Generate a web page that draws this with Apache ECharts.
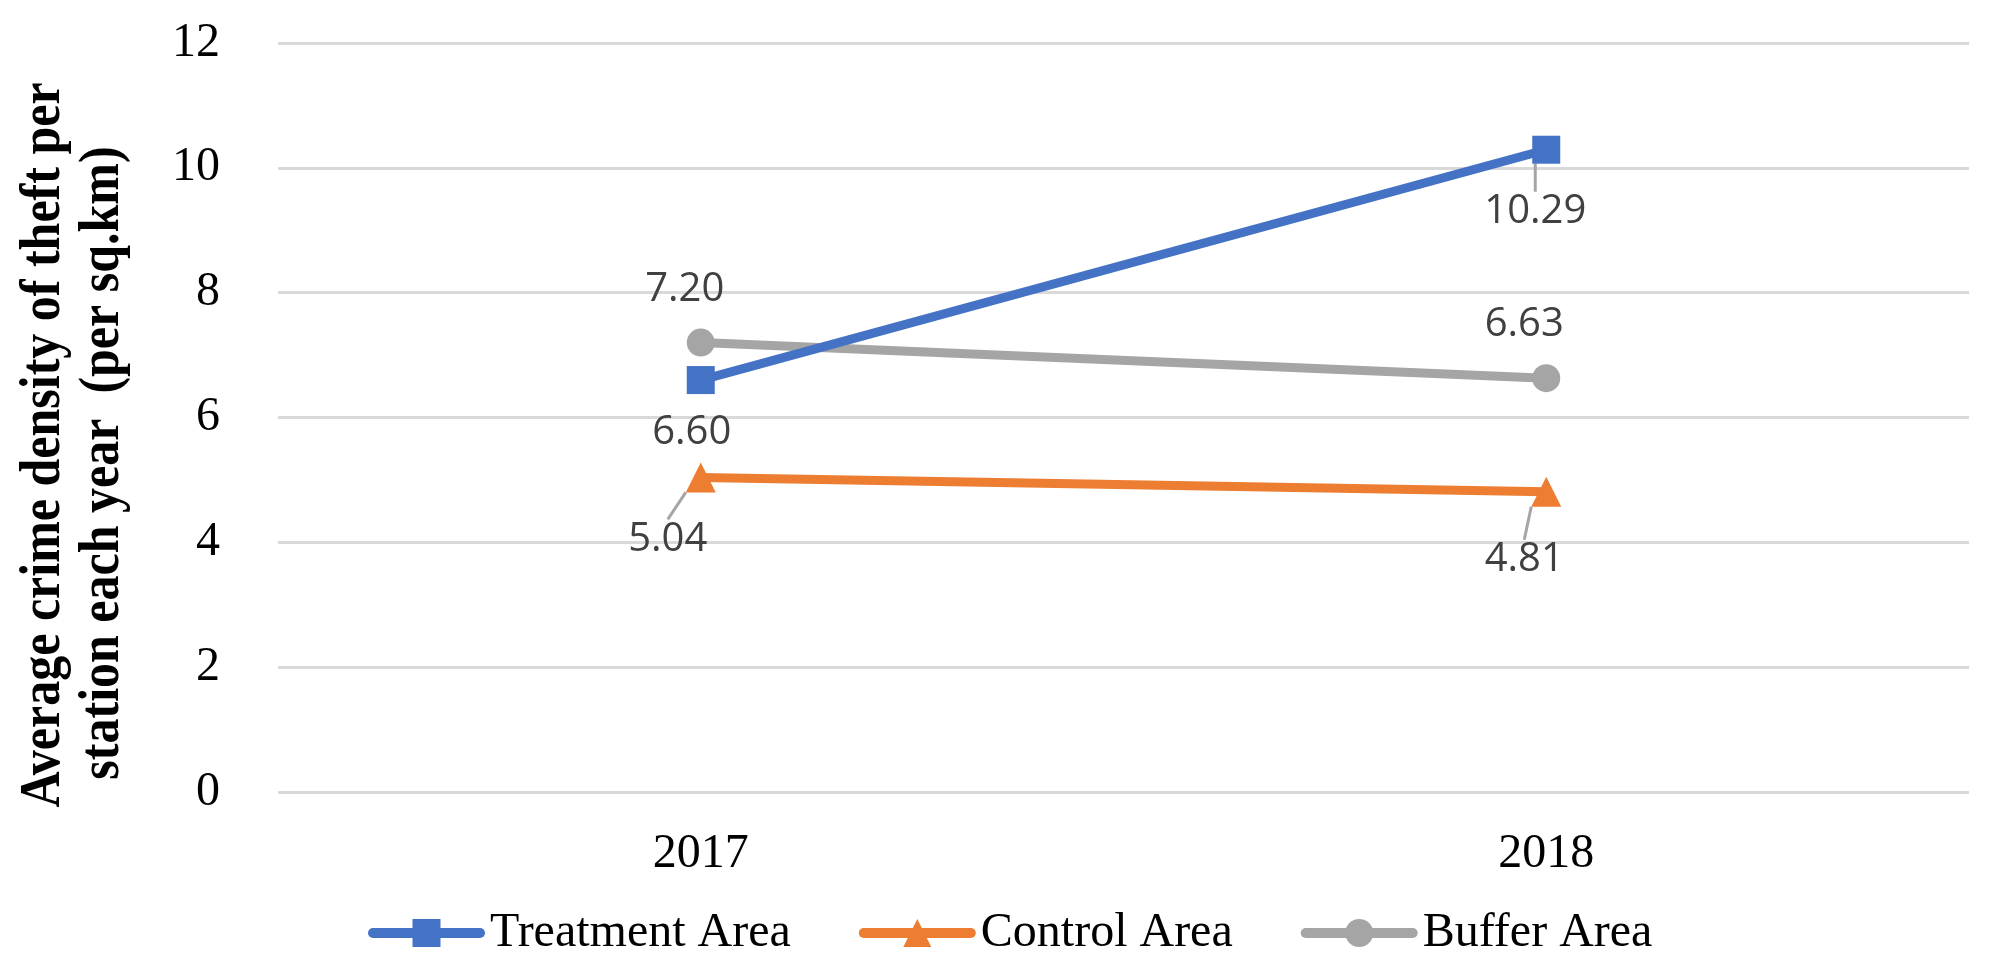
<!DOCTYPE html>
<html>
<head>
<meta charset="utf-8">
<script src="https://cdn.jsdelivr.net/npm/echarts@6/dist/echarts.min.js"></script>
<style>
html,body{margin:0;padding:0;background:#fff;}
#chart{width:1989px;height:976px;}
</style>
</head>
<body>
<div id="chart"></div>
<script>
const categories = ['2017', '2018'];
const treatment = [6.60, 10.29];
const control = [5.04, 4.81];
const buffer = [7.20, 6.63];
const yTicks = [0, 2, 4, 6, 8, 10, 12];
const seriesNames = ['Treatment Area', 'Control Area', 'Buffer Area'];
const colors = ['#4472C4', '#ED7D31', '#A5A5A5'];

// label offsets (px) from each point, per series
const labelShift = [
  [[-9, 53], [-11, 62]],
  [[-33, 62], [-22, 68]],
  [[-16, -53], [-22, -54]]
];
const labelLines = [[false, true], [true, true], [false, false]];

const chart = echarts.init(document.getElementById('chart'), null, {renderer: 'canvas'});
const serif = "'Liberation Serif', 'Times New Roman', serif";
const labelFont = "'Open Sans', 'Noto Sans', sans-serif";

function mkSeries(idx, data, symbol) {
  return {
    name: seriesNames[idx],
    type: 'line',
    data: data.map((v, i) => ({
      value: v,
      labelLine: {show: labelLines[idx][i]}
    })),
    symbol: symbol,
    symbolSize: symbol === 'triangle' ? 30 : 28,
    showAllSymbol: true,
    lineStyle: {width: 9, color: colors[idx]},
    itemStyle: {color: colors[idx]},
    label: {
      show: true,
      position: 'inside',
      formatter: p => p.value.toFixed(2),
      fontFamily: labelFont,
      fontSize: 40,
      color: '#404040'
    },
    labelLine: {lineStyle: {color: '#A5A5A5', width: 3}, smooth: false},
    labelLayout: function (p) {
      const s = labelShift[idx][p.dataIndex];
      return {dx: s[0], dy: s[1]};
    },
    emphasis: {disabled: true},
    z: idx === 0 ? 3 : 2
  };
}

const titleFont = "bold 50px 'Liberation Serif', 'Times New Roman', serif";

const option = {
  animation: false,
  color: colors,
  grid: {left: 278, right: 20, top: 43, bottom: 184, containLabel: false},
  xAxis: {
    type: 'category',
    data: categories,
    boundaryGap: true,
    axisLine: {show: false},
    axisTick: {show: false},
    axisLabel: {fontFamily: serif, fontSize: 48, color: '#000', margin: 38}
  },
  yAxis: {
    type: 'value',
    min: yTicks[0],
    max: yTicks[yTicks.length - 1],
    interval: 2,
    axisLine: {show: false},
    axisTick: {show: false},
    axisLabel: {fontFamily: serif, fontSize: 48, color: '#000', margin: 58},
    splitLine: {lineStyle: {color: '#D9D9D9', width: 3}}
  },
  legend: {
    data: seriesNames,
    left: 363,
    top: 904,
    itemWidth: 107,
    itemHeight: 35,
    itemGap: 68,
    lineStyle: {width: 10, cap: 'round'},
    textStyle: {fontFamily: serif, fontSize: 48, color: '#000', padding: [0, 0, 0, 5]}
  },
  graphic: [
    {
      type: 'text',
      x: 45, y: 445,
      rotation: Math.PI / 2,
      scaleY: 1.12,
      style: {
        text: 'Average crime density of theft per',
        font: titleFont,
        fill: '#000',
        textAlign: 'center',
        textVerticalAlign: 'middle'
      }
    },
    {
      type: 'text',
      x: 104, y: 463,
      rotation: Math.PI / 2,
      scaleY: 1.12,
      style: {
        text: 'station each year  (per sq.km)',
        font: titleFont,
        fill: '#000',
        textAlign: 'center',
        textVerticalAlign: 'middle'
      }
    }
  ],
  series: [
    mkSeries(0, treatment, 'rect'),
    mkSeries(1, control, 'triangle'),
    mkSeries(2, buffer, 'circle')
  ]
};
chart.setOption(option);
</script>
</body>
</html>
